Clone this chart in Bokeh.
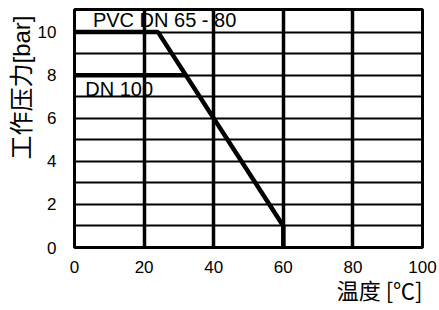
from bokeh.plotting import figure
from bokeh.models import FixedTicker, Range1d, Title
from bokeh.core.properties import value
from bokeh.embed import file_html
from bokeh.resources import INLINE

# Data
temp_pvc65 = [0, 24, 60, 60]
pres_pvc65 = [10, 10, 1, 0]
temp_dn100 = [0, 32]
pres_dn100 = [8, 8]

label_texts = ["PVC DN 65 - 80", "DN 100"]
label_x = [5.3, 3.1]
label_y = [10.55, 7.37]

x_ticks = [0, 20, 40, 60, 80, 100]
y_ticks = [0, 2, 4, 6, 8, 10]
y_grid = [1, 2, 3, 4, 5, 6, 7, 8, 9, 10]

x_title = "温度 [℃]"
y_title = "工作压力[bar]"

FONT = "Liberation Sans"
CJK = "Noto Sans CJK SC"

p = figure(width=439, height=310, output_backend="svg", toolbar_location=None,
           x_range=Range1d(0, 100), y_range=Range1d(0, 11.05),
           min_border_left=74, min_border_right=17, min_border_top=9, min_border_bottom=63)

p.background_fill_color = "white"
p.outline_line_color = "black"
p.outline_line_width = 3

# grids
p.xgrid.ticker = FixedTicker(ticks=x_ticks)
p.xgrid.grid_line_color = "black"
p.xgrid.grid_line_width = 3.5
p.xgrid.grid_line_alpha = 1
p.ygrid.ticker = FixedTicker(ticks=y_grid)
p.ygrid.grid_line_color = "black"
p.ygrid.grid_line_width = 2.2
p.ygrid.grid_line_alpha = 1

# axes
for ax in (p.xaxis[0], p.yaxis[0]):
    ax.axis_line_color = None
    ax.major_tick_line_color = None
    ax.minor_tick_line_color = None
    ax.major_tick_out = 0
    ax.major_tick_in = 0
    ax.minor_tick_out = 0
    ax.minor_tick_in = 0
    ax.major_label_text_font = FONT
    ax.major_label_text_font_size = "17px"
    ax.major_label_text_color = "black"
p.xaxis[0].ticker = FixedTicker(ticks=x_ticks)
p.yaxis[0].ticker = FixedTicker(ticks=y_ticks)
p.xaxis[0].major_label_standoff = 13
p.yaxis[0].major_label_standoff = 18

# data lines
p.line(temp_pvc65, pres_pvc65, line_color="black", line_width=4.5)
p.line(temp_dn100, pres_dn100, line_color="black", line_width=4.5)

p.text(x=label_x, y=label_y, text=label_texts, text_font=value(FONT),
       text_font_size="20px", text_baseline="middle", text_align="left", text_color="black")

# axis titles
xt = Title(text=x_title, align="right", vertical_align="top", text_font=CJK,
           text_font_size="22px", text_font_style="normal", text_color="black", standoff=-6)
p.add_layout(xt, "below")
yt = Title(text=y_title, align="right", offset=6, text_font=FONT + ", " + CJK,
           text_font_size="24px", text_font_style="normal", text_color="black", standoff=0)
p.add_layout(yt, "left")

open("out.html", "w").write(file_html(p, INLINE))
